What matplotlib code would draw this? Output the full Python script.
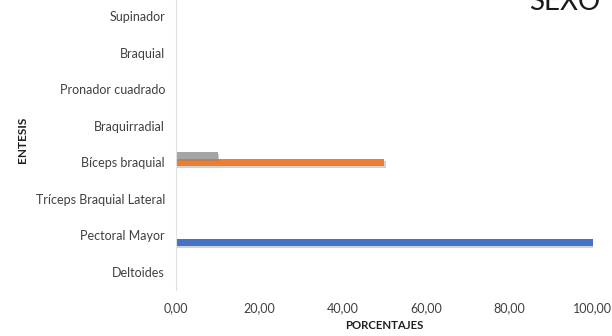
import numpy as np
import matplotlib.pyplot as plt
import matplotlib.patheffects as pe

# Entesis (de abajo hacia arriba) y porcentajes por serie
entesis = ["Deltoides", "Pectoral Mayor", "Tríceps Braquial Lateral",
           "Bíceps braquial", "Braquirradial", "Pronador cuadrado",
           "Braquial", "Supinador"]
serie_1 = [0, 100, 0, 0, 0, 0, 0, 0]
serie_2 = [0, 0, 0, 50, 0, 0, 0, 0]
serie_3 = [0, 0, 0, 10, 0, 0, 0, 0]
ticks_x = [0, 20, 40, 60, 80, 100]

colores = ["#4472C4", "#ED7D31", "#A5A5A5"]

plt.rcParams['font.family'] = ['Lato', 'DejaVu Sans']

fig = plt.figure(figsize=(6.12, 3.36), dpi=100)
ax = fig.add_axes([0.2876, 0.137, 0.681, 0.869])

y = np.arange(len(entesis))
alto = 0.19
sombra = [pe.SimplePatchShadow(offset=(0.8, -1.5), shadow_rgbFace='#7f7f7f', alpha=0.35),
          pe.Normal()]
for k, (serie, c) in enumerate(zip([serie_1, serie_2, serie_3], colores)):
    barras = ax.barh(y + (k - 1) * alto, serie, height=alto, color=c)
    for b in barras:
        if b.get_width() > 0:
            b.set_path_effects(sombra)

ax.set_xlim(0, 100)
ax.set_ylim(-0.5, len(entesis) - 0.5)
ax.set_yticks(y)
ax.set_yticklabels(entesis, fontsize=9, color='#404040')
ax.set_xticks(ticks_x)
ax.set_xticklabels([f"{t:.2f}".replace('.', ',') for t in ticks_x],
                   fontsize=9, color='#404040')
ax.tick_params(length=0, pad=8)
ax.tick_params(axis='x', pad=9)

for s in ['top', 'right', 'bottom']:
    ax.spines[s].set_visible(False)
ax.spines['left'].set_color('#E0E0E0')

ax.set_xlabel("PORCENTAJES", fontsize=8.2, fontweight='bold', color='#202020', labelpad=4)
ax.set_ylabel("ENTESIS", fontsize=8.5, fontweight='bold', color='#202020')
ax.yaxis.set_label_coords(-0.355, 0.514)

fig.text(0.981, 0.970, "SEXO", fontsize=20, ha='right', va='baseline', color='#1a1a1a')

fig.savefig("out.png", dpi=100)
